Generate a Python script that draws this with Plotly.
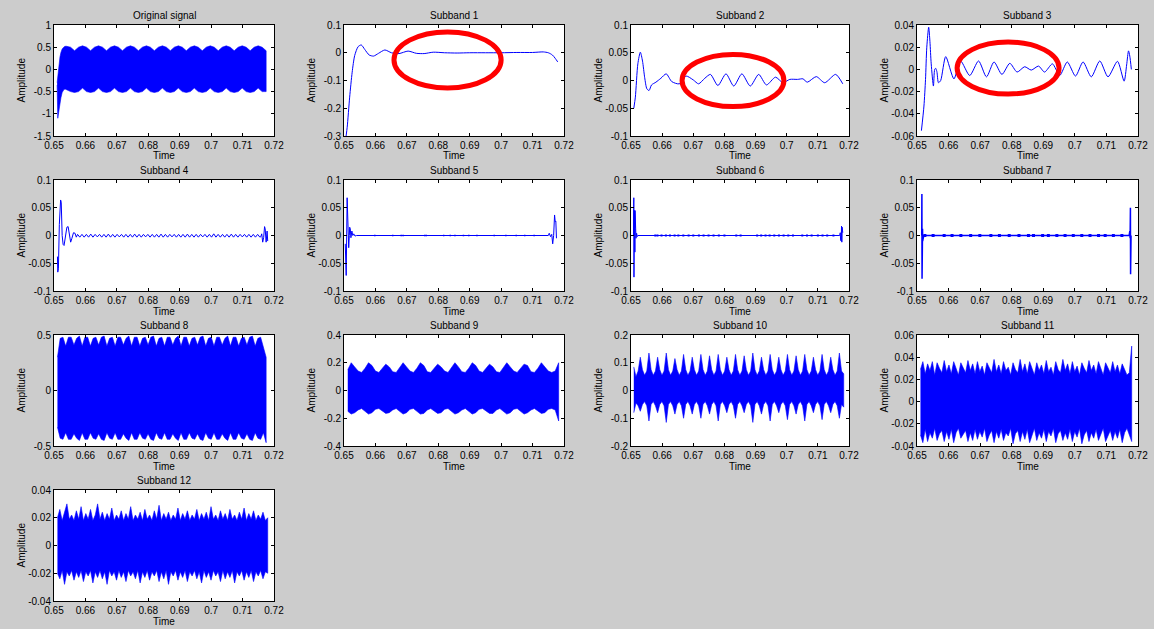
import numpy as np
import plotly.graph_objects as go

# ---------------- data ----------------
x_ticks = [0.65, 0.66, 0.67, 0.68, 0.69, 0.70, 0.71, 0.72]
x_tick_text = ["0.65", "0.66", "0.67", "0.68", "0.69", "0.7", "0.71", "0.72"]

titles = ["Original signal", "Subband 1", "Subband 2", "Subband 3", "Subband 4",
          "Subband 5", "Subband 6", "Subband 7", "Subband 8", "Subband 9",
          "Subband 10", "Subband 11", "Subband 12"]

y_ticks = [
    [-1.5, -1, -0.5, 0, 0.5, 1],
    [-0.3, -0.2, -0.1, 0, 0.1],
    [-0.1, -0.05, 0, 0.05, 0.1],
    [-0.06, -0.04, -0.02, 0, 0.02, 0.04],
    [-0.1, -0.05, 0, 0.05, 0.1],
    [-0.1, -0.05, 0, 0.05, 0.1],
    [-0.1, -0.05, 0, 0.05, 0.1],
    [-0.1, -0.05, 0, 0.05, 0.1],
    [-0.5, 0, 0.5],
    [-0.4, -0.2, 0, 0.2, 0.4],
    [-0.2, -0.1, 0, 0.1, 0.2],
    [-0.04, -0.02, 0, 0.02, 0.04, 0.06],
    [-0.04, -0.02, 0, 0.02, 0.04],
]
y_tick_text = [
    ["-1.5", "-1", "-0.5", "0", "0.5", "1"],
    ["-0.3", "-0.2", "-0.1", "0", "0.1"],
    ["-0.1", "-0.05", "0", "0.05", "0.1"],
    ["-0.06", "-0.04", "-0.02", "0", "0.02", "0.04"],
    ["-0.1", "-0.05", "0", "0.05", "0.1"],
    ["-0.1", "-0.05", "0", "0.05", "0.1"],
    ["-0.1", "-0.05", "0", "0.05", "0.1"],
    ["-0.1", "-0.05", "0", "0.05", "0.1"],
    ["-0.5", "0", "0.5"],
    ["-0.4", "-0.2", "0", "0.2", "0.4"],
    ["-0.2", "-0.1", "0", "0.1", "0.2"],
    ["-0.04", "-0.02", "0", "0.02", "0.04", "0.06"],
    ["-0.04", "-0.02", "0", "0.02", "0.04"],
]

# Original signal: start transient + scalloped envelope
orig_start_t = [0.6510, 0.6512, 0.6514, 0.6516, 0.6519, 0.6522, 0.6526, 0.6531, 0.6535]
orig_start_hi = [-0.30, -0.15, 0.02, 0.15, 0.28, 0.38, 0.46, 0.50, 0.52]
orig_start_lo = [-0.35, -1.10, -1.05, -0.92, -0.78, -0.64, -0.52, -0.46, -0.44]
orig_env_span = (0.6540, 0.7175)
orig_hi = [0.52, 0.50, 0.42, 0.50, 0.53, 0.50, 0.42, 0.50, 0.53, 0.50, 0.42, 0.50,
           0.53, 0.50, 0.42, 0.50, 0.53, 0.50, 0.42, 0.50, 0.53, 0.50, 0.42, 0.50,
           0.53, 0.50, 0.42, 0.50, 0.53, 0.50, 0.42, 0.50, 0.53, 0.50, 0.42, 0.50,
           0.53, 0.50, 0.42, 0.50, 0.53, 0.50, 0.42, 0.50, 0.53, 0.50, 0.42, 0.50,
           0.53, 0.50, 0.42]
orig_lo = [-0.45, -0.50, -0.52, -0.50, -0.42, -0.50, -0.52, -0.50, -0.42, -0.50, -0.52, -0.50,
           -0.42, -0.50, -0.52, -0.50, -0.42, -0.50, -0.52, -0.50, -0.42, -0.50, -0.52, -0.50,
           -0.42, -0.50, -0.52, -0.50, -0.42, -0.50, -0.52, -0.50, -0.42, -0.50, -0.52, -0.50,
           -0.42, -0.50, -0.52, -0.50, -0.42, -0.50, -0.52, -0.50, -0.42, -0.50, -0.52, -0.50,
           -0.42, -0.50, -0.50]

s1_t = [0.6503, 0.6510, 0.6518, 0.6526, 0.6534, 0.6545, 0.6555, 0.6566, 0.6580, 0.6594,
        0.6610, 0.6630, 0.6651, 0.6675, 0.6704, 0.6730, 0.6755, 0.6784, 0.6820, 0.6860,
        0.6900, 0.6950, 0.7000, 0.7050, 0.7100, 0.7134, 0.7150, 0.7163, 0.7172, 0.7180]
s1_y = [-0.33, -0.27, -0.16, -0.07, -0.01, 0.022, 0.028, 0.012, -0.008, -0.012,
        -0.002, 0.010, 0.000, -0.003, 0.006, -0.002, -0.003, 0.002, 0.000, -0.001,
        0.000, 0.000, 0.000, 0.001, 0.001, 0.003, 0.000, -0.008, -0.020, -0.033]

s2_t = [0.6509, 0.6514, 0.6522, 0.6530, 0.6537, 0.6544, 0.6551, 0.6558, 0.6566, 0.6580,
        0.6596, 0.6613, 0.6631, 0.6655, 0.6677, 0.6700, 0.6717, 0.6737, 0.6755, 0.6779,
        0.6805, 0.6830, 0.6856, 0.6883, 0.6910, 0.6935, 0.6964, 0.6988, 0.7010, 0.7035,
        0.7052, 0.7066, 0.7095, 0.7122, 0.7157, 0.7180]
s2_y = [-0.050, -0.030, 0.030, 0.051, 0.035, 0.005, -0.015, -0.018, -0.008, -0.003,
        0.004, 0.012, -0.002, -0.006, 0.008, 0.001, -0.006, 0.004, 0.011, -0.009,
        0.012, -0.010, 0.012, -0.010, 0.011, -0.008, 0.006, -0.004, 0.002, 0.002,
        0.003, -0.003, 0.007, -0.004, 0.011, -0.006]

s3_t = [0.6514, 0.6522, 0.6527, 0.6531, 0.6537, 0.6541, 0.6545, 0.6552, 0.6556, 0.6559,
        0.6563, 0.6568, 0.6575, 0.6591, 0.6617, 0.6638, 0.6667, 0.6695, 0.6720, 0.6744,
        0.6769, 0.6794, 0.6817, 0.6841, 0.6862, 0.6885, 0.6904, 0.6929, 0.6952, 0.6976,
        0.7002, 0.7026, 0.7052, 0.7079, 0.7105, 0.7135, 0.7156, 0.7164, 0.7170, 0.7174,
        0.7179]
s3_y = [-0.0552, -0.033, -0.009, 0.020, 0.038, 0.025, 0.005, -0.015, 0.000, 0.001,
        -0.002, -0.012, -0.010, 0.0115, -0.0085, 0.0076, -0.0055, 0.0076, -0.0067, 0.0067,
        -0.0045, 0.0055, -0.0024, 0.0024, -0.0006, 0.0030, -0.0024, 0.0050, -0.0055, 0.0067,
        -0.0060, 0.0067, -0.0067, 0.0076, -0.0067, 0.0073, -0.0106, 0.0040, 0.0167, 0.0120,
        0.0000]

s4_head_t = [0.6511, 0.6512, 0.6514, 0.6517, 0.6521, 0.6523, 0.6526, 0.6529, 0.6532, 0.6536,
             0.6541, 0.6545, 0.6549, 0.6553, 0.6557, 0.6562, 0.6567, 0.6571]
s4_head_y = [-0.038, -0.066, -0.060, 0.020, 0.064, 0.060, 0.000, -0.016, -0.018, -0.005,
             0.015, 0.016, 0.000, -0.012, -0.005, 0.005, 0.004, -0.003]
s4_ripple_span = (0.6575, 0.7155)
s4_ripple_y = [0.002, -0.003, 0.002, -0.003, 0.002, -0.003, 0.0025, -0.003, 0.002, -0.0025,
               0.002, -0.003, 0.002, -0.003, 0.0025, -0.003, 0.002, -0.003, 0.002, -0.0025,
               0.002, -0.003, 0.002, -0.003, 0.002, -0.003, 0.0025, -0.003, 0.002, -0.003,
               0.002, -0.0025, 0.002, -0.003, 0.002, -0.003, 0.002, -0.003, 0.0025, -0.003,
               0.002, -0.003, 0.002, -0.0025, 0.002, -0.003, 0.002, -0.003, 0.002, -0.003,
               0.0025, -0.003, 0.002, -0.003, 0.002, -0.003, 0.002, -0.0025, 0.002, -0.003,
               0.002, -0.003, 0.003, -0.003, 0.002, -0.003, 0.002, -0.003, 0.002, -0.003,
               0.0025, -0.003, 0.002, -0.003, 0.002, -0.0025, 0.002, -0.003, 0.002, -0.003,
               0.002, -0.003, 0.002, -0.003]
s4_tail_t = [0.7158, 0.7161, 0.7164, 0.7167, 0.7170, 0.7172, 0.7175, 0.7178, 0.7180]
s4_tail_y = [-0.002, 0.003, -0.012, -0.004, 0.016, 0.012, -0.012, 0.008, -0.010]

s5_t = [0.6504, 0.6505, 0.6507, 0.6510, 0.6512, 0.6513, 0.6515, 0.6517, 0.6518, 0.6520,
        0.6522, 0.6525, 0.6528, 0.6531, 0.6535, 0.6540, 0.7150, 0.7153, 0.7157, 0.7161,
        0.7164, 0.7167, 0.7170, 0.7172, 0.7174, 0.7176]
s5_y = [-0.015, -0.070, -0.072, 0.068, 0.010, -0.010, -0.022, 0.000, 0.015, 0.012,
        -0.004, 0.008, 0.000, 0.003, -0.001, 0.000, 0.000, 0.004, -0.002, 0.002,
        -0.015, 0.000, 0.037, 0.025, 0.026, -0.005]
s5_blips = [0.6598, 0.6655, 0.6682, 0.6688, 0.6757, 0.6762, 0.6817, 0.6838, 0.6853,
            0.6880, 0.6897, 0.6923, 0.6978, 0.7015, 0.7048, 0.7075, 0.7105]

s6_t = [0.6508, 0.6509, 0.65095, 0.6510, 0.65105, 0.6511, 0.65115, 0.6512, 0.65125, 0.6513,
        0.65135, 0.6514, 0.65145, 0.6515, 0.6516, 0.6518, 0.6520, 0.6522, 0.7170, 0.7172,
        0.7173, 0.7174, 0.7175, 0.7176, 0.7177, 0.7178, 0.7179, 0.7180]
s6_y = [0.000, 0.068, -0.075, 0.040, -0.060, 0.045, -0.045, 0.030, -0.030, 0.045,
        -0.020, 0.013, -0.012, 0.012, -0.005, 0.004, -0.002, 0.000, 0.000, 0.005,
        -0.008, 0.012, -0.010, 0.017, -0.012, 0.015, -0.010, 0.005]
s6_blips = [0.6578, 0.6585, 0.6598, 0.6612, 0.6625, 0.6640, 0.6652, 0.6668, 0.6685,
            0.6700, 0.6718, 0.6733, 0.6749, 0.6765, 0.6782, 0.6800, 0.6838, 0.6852,
            0.6905, 0.6918, 0.6932, 0.6945, 0.6960, 0.6975, 0.6990, 0.7005, 0.7020,
            0.7050, 0.7065, 0.7080, 0.7100, 0.7115, 0.7130, 0.7150]

s7_t = [0.6515, 0.65155, 0.6516, 0.65165, 0.6517, 0.65175, 0.6518, 0.6519, 0.6520, 0.6522,
        0.7172, 0.7174, 0.7175, 0.7176, 0.71765, 0.7177, 0.7178]
s7_y = [0.000, 0.075, -0.078, 0.055, -0.020, 0.012, -0.010, 0.006, -0.004, 0.000,
        0.000, 0.008, -0.005, 0.050, -0.070, 0.030, 0.000]
s7_blobs = [0.6525, 0.6551, 0.6586, 0.6611, 0.6639, 0.6670, 0.6699, 0.6734, 0.6761,
            0.6792, 0.6823, 0.6853, 0.6869, 0.6898, 0.6916, 0.6943, 0.6969, 0.6995,
            0.7022, 0.7048, 0.7075, 0.7096, 0.7122, 0.7149]

s8_span = (0.6511, 0.7175)
s8_hi = [0.30,
         0.47, 0.48, 0.40, 0.48, 0.48, 0.41, 0.47, 0.49, 0.40, 0.48, 0.48, 0.40, 0.47, 0.48, 0.41,
         0.48, 0.49, 0.40, 0.47, 0.48, 0.40, 0.48, 0.48, 0.41, 0.47, 0.49, 0.40, 0.48, 0.48, 0.40,
         0.47, 0.48, 0.41, 0.48, 0.49, 0.40, 0.47, 0.48, 0.40, 0.48, 0.48, 0.41, 0.47, 0.49, 0.40,
         0.48, 0.48, 0.40, 0.47, 0.48, 0.41, 0.48, 0.49, 0.40, 0.47, 0.48, 0.40, 0.48, 0.48, 0.41,
         0.47, 0.49, 0.40, 0.48, 0.48, 0.40, 0.47, 0.48, 0.41, 0.48, 0.49, 0.40, 0.47, 0.48, 0.40,
         0.30]
s8_lo = [-0.33,
         -0.43, -0.44, -0.38, -0.44, -0.44, -0.39, -0.43, -0.45, -0.38, -0.44, -0.44, -0.38, -0.43, -0.44, -0.39,
         -0.44, -0.45, -0.38, -0.43, -0.44, -0.38, -0.44, -0.44, -0.39, -0.43, -0.45, -0.38, -0.44, -0.44, -0.38,
         -0.43, -0.44, -0.39, -0.44, -0.45, -0.38, -0.43, -0.44, -0.38, -0.44, -0.44, -0.39, -0.43, -0.45, -0.38,
         -0.44, -0.44, -0.38, -0.43, -0.44, -0.39, -0.44, -0.45, -0.38, -0.43, -0.44, -0.38, -0.44, -0.44, -0.39,
         -0.43, -0.45, -0.38, -0.44, -0.44, -0.38, -0.43, -0.44, -0.39, -0.44, -0.45, -0.38, -0.43, -0.44, -0.38,
         -0.47]

s9_span = (0.6512, 0.7183)
s9_hi = [0.15, 0.20, 0.17, 0.14, 0.13, 0.16, 0.20, 0.18, 0.14, 0.13,
         0.16, 0.19, 0.17, 0.135, 0.13, 0.17, 0.20, 0.17, 0.14, 0.13,
         0.16, 0.20, 0.18, 0.135, 0.13, 0.16, 0.19, 0.17, 0.14, 0.13,
         0.17, 0.20, 0.17, 0.135, 0.13, 0.16, 0.20, 0.18, 0.14, 0.13,
         0.16, 0.19, 0.17, 0.135, 0.13, 0.17, 0.20, 0.17, 0.14, 0.13,
         0.16, 0.19, 0.18, 0.135, 0.13, 0.16, 0.20, 0.17, 0.14, 0.13,
         0.14, 0.20]
s9_lo = [-0.15, -0.17, -0.16, -0.14, -0.13, -0.15, -0.17, -0.16, -0.135, -0.13,
         -0.15, -0.165, -0.16, -0.14, -0.13, -0.15, -0.17, -0.16, -0.135, -0.13,
         -0.15, -0.17, -0.165, -0.14, -0.13, -0.15, -0.165, -0.16, -0.135, -0.13,
         -0.15, -0.17, -0.16, -0.14, -0.13, -0.15, -0.17, -0.16, -0.135, -0.13,
         -0.15, -0.165, -0.165, -0.14, -0.13, -0.15, -0.17, -0.16, -0.135, -0.13,
         -0.15, -0.17, -0.16, -0.14, -0.13, -0.15, -0.165, -0.16, -0.135, -0.13,
         -0.14, -0.22]

s10_span = (0.6509, 0.7183)
s10_hi = [0.085, 0.05, 0.07,
          0.12, 0.075, 0.055, 0.07, 0.135, 0.075, 0.055, 0.07, 0.12, 0.075, 0.055, 0.07,
          0.135, 0.075, 0.055, 0.07, 0.115, 0.075, 0.055, 0.07, 0.13, 0.075, 0.055, 0.07,
          0.12, 0.075, 0.055, 0.07, 0.13, 0.075, 0.055, 0.07, 0.125, 0.075, 0.055, 0.07,
          0.13, 0.075, 0.055, 0.07, 0.12, 0.075, 0.055, 0.07, 0.13, 0.075, 0.055, 0.07,
          0.125, 0.075, 0.055, 0.07, 0.135, 0.075, 0.055, 0.07, 0.12, 0.075, 0.055, 0.07,
          0.13, 0.075, 0.055, 0.07, 0.12, 0.075, 0.055, 0.07, 0.13, 0.075, 0.055, 0.07,
          0.125, 0.075, 0.055, 0.07, 0.13, 0.075, 0.055, 0.07, 0.12, 0.075, 0.055, 0.07,
          0.13, 0.075, 0.055, 0.07, 0.12, 0.075, 0.055, 0.07,
          0.135, 0.07, 0.06]
s10_lo = [-0.08, -0.045, -0.055,
          -0.075, -0.05, -0.04, -0.055, -0.11, -0.05, -0.04, -0.055, -0.08, -0.05, -0.04, -0.055,
          -0.115, -0.05, -0.04, -0.055, -0.085, -0.05, -0.04, -0.055, -0.10, -0.05, -0.04, -0.055,
          -0.085, -0.05, -0.04, -0.055, -0.10, -0.05, -0.04, -0.055, -0.085, -0.05, -0.04, -0.055,
          -0.11, -0.05, -0.04, -0.055, -0.08, -0.05, -0.04, -0.055, -0.10, -0.05, -0.04, -0.055,
          -0.08, -0.05, -0.04, -0.055, -0.115, -0.05, -0.04, -0.055, -0.085, -0.05, -0.04, -0.055,
          -0.11, -0.05, -0.04, -0.055, -0.08, -0.05, -0.04, -0.055, -0.105, -0.05, -0.04, -0.055,
          -0.085, -0.05, -0.04, -0.055, -0.11, -0.05, -0.04, -0.055, -0.08, -0.05, -0.04, -0.055,
          -0.105, -0.05, -0.04, -0.055, -0.08, -0.05, -0.04, -0.055,
          -0.10, -0.05, -0.06]

s11_span = (0.6511, 0.7180)
s11_hi = [0.029, 0.036, 0.025, 0.034, 0.028, 0.036, 0.024, 0.035, 0.030, 0.026,
          0.037, 0.027, 0.033, 0.025, 0.036, 0.029, 0.024, 0.035, 0.031, 0.026,
          0.037, 0.028, 0.034, 0.025, 0.036, 0.027, 0.032, 0.024, 0.035, 0.030,
          0.026, 0.038, 0.027, 0.033, 0.025, 0.036, 0.028, 0.031, 0.024, 0.035,
          0.029, 0.026, 0.038, 0.027, 0.034, 0.025, 0.036, 0.030, 0.024, 0.035,
          0.028, 0.033, 0.025, 0.037, 0.027, 0.031, 0.024, 0.036, 0.029, 0.026,
          0.038, 0.028, 0.034, 0.025, 0.036, 0.027, 0.032, 0.024, 0.035, 0.030,
          0.026, 0.037, 0.028, 0.033, 0.025, 0.036, 0.029, 0.024, 0.035, 0.031,
          0.026, 0.036, 0.027, 0.033, 0.025, 0.034, 0.028, 0.024, 0.026, 0.050]
s11_lo = [-0.030, -0.037, -0.025, -0.036, -0.028, -0.033, -0.024, -0.035, -0.029, -0.026,
          -0.036, -0.027, -0.034, -0.025, -0.037, -0.028, -0.024, -0.033, -0.030, -0.026,
          -0.036, -0.028, -0.035, -0.025, -0.034, -0.027, -0.032, -0.024, -0.036, -0.030,
          -0.026, -0.037, -0.027, -0.033, -0.025, -0.035, -0.028, -0.031, -0.024, -0.038,
          -0.029, -0.026, -0.036, -0.027, -0.034, -0.025, -0.037, -0.030, -0.024, -0.035,
          -0.028, -0.033, -0.025, -0.036, -0.027, -0.031, -0.024, -0.037, -0.029, -0.026,
          -0.035, -0.028, -0.034, -0.025, -0.036, -0.027, -0.032, -0.024, -0.038, -0.030,
          -0.026, -0.036, -0.028, -0.033, -0.025, -0.035, -0.029, -0.024, -0.036, -0.031,
          -0.026, -0.035, -0.027, -0.033, -0.025, -0.037, -0.028, -0.024, -0.030, -0.036]

s12_span = (0.6511, 0.7180)
s12_hi = [0.020, 0.026, 0.018, 0.024, 0.030, 0.019, 0.022, 0.018, 0.025, 0.019,
          0.028, 0.018, 0.023, 0.019, 0.026, 0.018, 0.022, 0.030, 0.019, 0.024,
          0.018, 0.023, 0.019, 0.027, 0.018, 0.022, 0.019, 0.025, 0.018, 0.023,
          0.019, 0.028, 0.018, 0.022, 0.019, 0.024, 0.018, 0.026, 0.019, 0.022,
          0.018, 0.025, 0.019, 0.029, 0.018, 0.023, 0.019, 0.024, 0.018, 0.022,
          0.019, 0.027, 0.018, 0.023, 0.019, 0.025, 0.018, 0.022, 0.019, 0.026,
          0.018, 0.023, 0.019, 0.024, 0.018, 0.028, 0.019, 0.022, 0.018, 0.025,
          0.019, 0.023, 0.018, 0.026, 0.019, 0.022, 0.018, 0.024, 0.019, 0.027,
          0.018, 0.023, 0.019, 0.025, 0.018, 0.022, 0.019, 0.024, 0.018, 0.020]
s12_lo = [-0.020, -0.024, -0.018, -0.028, -0.019, -0.022, -0.018, -0.025, -0.019, -0.023,
          -0.018, -0.026, -0.019, -0.022, -0.018, -0.027, -0.019, -0.023, -0.018, -0.024,
          -0.019, -0.028, -0.018, -0.022, -0.019, -0.025, -0.018, -0.023, -0.019, -0.026,
          -0.018, -0.022, -0.019, -0.024, -0.018, -0.027, -0.019, -0.023, -0.018, -0.025,
          -0.019, -0.022, -0.018, -0.026, -0.019, -0.024, -0.018, -0.028, -0.019, -0.022,
          -0.018, -0.025, -0.019, -0.023, -0.018, -0.026, -0.019, -0.022, -0.018, -0.024,
          -0.019, -0.027, -0.018, -0.023, -0.019, -0.025, -0.018, -0.022, -0.019, -0.026,
          -0.018, -0.024, -0.019, -0.023, -0.018, -0.027, -0.019, -0.022, -0.018, -0.025,
          -0.019, -0.023, -0.018, -0.026, -0.019, -0.022, -0.018, -0.024, -0.019, -0.020]

# red ellipses (panel index, x0, x1, y0, y1) in data units
ellipses = [
    (1, 0.6659, 0.7000, -0.127, 0.075),
    (2, 0.6664, 0.6991, -0.047, 0.047),
    (3, 0.6627, 0.6950, -0.0222, 0.0247),
]

# ---------------- layout geometry (pixels) ----------------
W, H = 1154, 629
COL_X = [(54, 274), (344, 564), (631, 849), (917, 1138)]
ROW_Y = [(25, 136), (180, 291), (335, 446), (490, 601)]
BLUE = "#0000ff"
FONT = "Liberation Sans, Arial, Helvetica, sans-serif"

fig = go.Figure()


def ax_names(k):
    return ("x", "y") if k == 0 else (f"x{k+1}", f"y{k+1}")


def add_line(k, t, y, shape="linear", width=1.0):
    xa, ya = ax_names(k)
    line = dict(color=BLUE, width=width, shape=shape)
    if shape == "spline":
        line["smoothing"] = 0.7
    fig.add_trace(go.Scatter(x=t, y=y, mode="lines", line=line, xaxis=xa, yaxis=ya,
                             showlegend=False, hoverinfo="skip"))


def add_band(k, t_hi, hi, t_lo, lo):
    xa, ya = ax_names(k)
    xs = list(t_hi) + list(t_lo)[::-1]
    ys = list(hi) + list(lo)[::-1]
    fig.add_trace(go.Scatter(x=xs, y=ys, mode="lines", fill="toself", fillcolor=BLUE,
                             line=dict(color=BLUE, width=0.6), xaxis=xa, yaxis=ya,
                             showlegend=False, hoverinfo="skip"))


def add_marks(k, t, size=3):
    xa, ya = ax_names(k)
    fig.add_trace(go.Scatter(x=t, y=[0.0] * len(t), mode="markers",
                             marker=dict(color=BLUE, size=size, symbol="square", line=dict(width=0)),
                             xaxis=xa, yaxis=ya, showlegend=False, hoverinfo="skip"))


def grid(span, values):
    return np.linspace(span[0], span[1], len(values))


# Original
add_band(0, orig_start_t + list(grid(orig_env_span, orig_hi)), orig_start_hi + orig_hi,
         orig_start_t + list(grid(orig_env_span, orig_lo)), orig_start_lo + orig_lo)
add_line(1, s1_t, s1_y, "spline")
add_line(2, s2_t, s2_y, "spline")
add_line(3, s3_t, s3_y, "spline")
add_line(4, s4_head_t + list(grid(s4_ripple_span, s4_ripple_y)) + s4_tail_t,
         s4_head_y + s4_ripple_y + s4_tail_y)
add_line(5, s5_t, s5_y)
add_marks(5, s5_blips, 1.5)
add_line(6, s6_t, s6_y)
add_marks(6, s6_blips, 2)
add_line(7, s7_t, s7_y, width=1.5)
add_marks(7, s7_blobs, 3)
add_band(8, grid(s8_span, s8_hi), s8_hi, grid(s8_span, s8_lo), s8_lo)
add_band(9, grid(s9_span, s9_hi), s9_hi, grid(s9_span, s9_lo), s9_lo)
add_band(10, grid(s10_span, s10_hi), s10_hi, grid(s10_span, s10_lo), s10_lo)
add_band(11, grid(s11_span, s11_hi), s11_hi, grid(s11_span, s11_lo), s11_lo)
add_band(12, grid(s12_span, s12_hi), s12_hi, grid(s12_span, s12_lo), s12_lo)

layout = dict(
    width=W, height=H, autosize=False,
    margin=dict(l=0, r=0, t=0, b=0, pad=0),
    paper_bgcolor="#cccccc", plot_bgcolor="#ffffff",
    font=dict(family=FONT, size=10, color="#000000"),
    showlegend=False,
)
annotations = []
shapes = []
for k in range(13):
    r, c = divmod(k, 4)
    x0, x1 = COL_X[c]
    y0, y1 = ROW_Y[r]
    xa, ya = ax_names(k)
    xkey = "xaxis" if k == 0 else f"xaxis{k+1}"
    ykey = "yaxis" if k == 0 else f"yaxis{k+1}"
    common = dict(showgrid=False, zeroline=False, showline=True, linecolor="#000000",
                  linewidth=1, mirror="allticks", ticks="inside", ticklen=3,
                  tickcolor="#000000", tickwidth=1, automargin=False,
                  tickfont=dict(family=FONT, size=10, color="#000000"), fixedrange=True)
    layout[xkey] = dict(domain=[x0 / W, x1 / W], anchor=ya, range=[0.65, 0.72],
                        tickmode="array", tickvals=x_ticks, ticktext=x_tick_text, **common)
    yt = y_ticks[k]
    layout[ykey] = dict(domain=[1 - y1 / H, 1 - y0 / H], anchor=xa, range=[yt[0], yt[-1]],
                        tickmode="array", tickvals=yt, ticktext=y_tick_text[k], **common)
    cx = (x0 + x1) / 2 / W
    annotations.append(dict(text=titles[k], x=cx, y=1 - (y0 - 10) / H, xref="paper", yref="paper",
                            showarrow=False, xanchor="center", yanchor="middle",
                            font=dict(family=FONT, size=10, color="#000000")))
    annotations.append(dict(text="Time", x=cx, y=1 - (y1 + 20) / H, xref="paper", yref="paper",
                            showarrow=False, xanchor="center", yanchor="middle",
                            font=dict(family=FONT, size=10, color="#000000")))
    annotations.append(dict(text="Amplitude", x=(x0 - 33) / W, y=1 - (y0 + y1) / 2 / H,
                            xref="paper", yref="paper", textangle=-90,
                            showarrow=False, xanchor="center", yanchor="middle",
                            font=dict(family=FONT, size=10, color="#000000")))

for (k, ex0, ex1, ey0, ey1) in ellipses:
    xa, ya = ax_names(k)
    shapes.append(dict(type="circle", xref=xa, yref=ya, x0=ex0, x1=ex1, y0=ey0, y1=ey1,
                       line=dict(color="#ff0000", width=5), layer="above"))

layout["annotations"] = annotations
layout["shapes"] = shapes
fig.update_layout(**layout)
fig.write_html("out.html", config={"responsive": False, "displayModeBar": False},
               post_script="document.body.style.margin='0px';document.body.style.overflow='hidden';")
